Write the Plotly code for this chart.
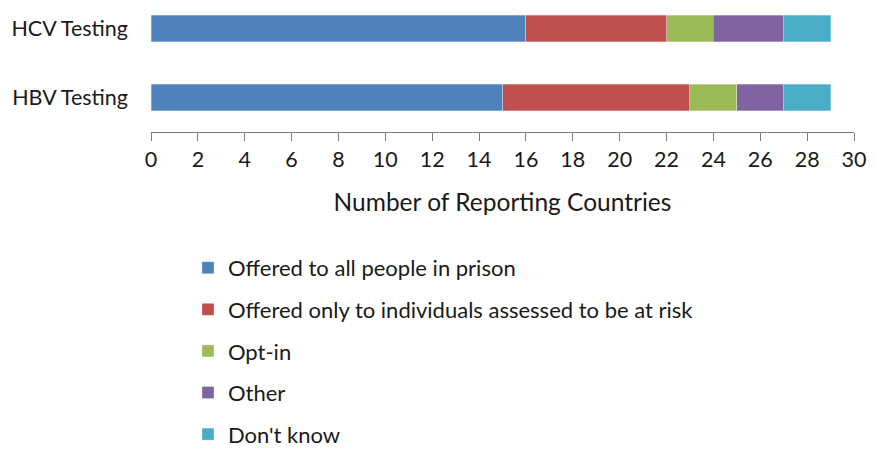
import plotly.graph_objects as go

categories = ['HBV Testing', 'HCV Testing']
series_names = [
    'Offered to all people in prison',
    'Offered only to individuals assessed to be at risk',
    'Opt-in',
    'Other',
    "Don't know",
]
# values per series, ordered as categories (HBV, HCV)
all_people = [15, 16]
at_risk = [8, 6]
opt_in = [2, 2]
other = [2, 3]
dont_know = [2, 2]

colors = ['#4F81BD', '#C0504D', '#9BBB59', '#8064A2', '#4BACC6']
font = 'Lato, Calibri, sans-serif'

fig = go.Figure()
for i, (name, vals) in enumerate(zip(series_names, [all_people, at_risk, opt_in, other, dont_know])):
    fig.add_trace(go.Bar(
        y=categories, x=vals, name=name, orientation='h',
        marker=dict(color=colors[i], line=dict(color='rgba(255,255,255,0.6)', width=0.5)),
        width=0.39, legendgroup=f'g{i}',
    ))

# page body adds an 8px offset, so the figure is sized to the visible area
fig.update_layout(
    width=868, height=451,
    barmode='stack',
    plot_bgcolor='white', paper_bgcolor='white',
    margin=dict(l=143, r=22, t=0, b=327, autoexpand=False),
    font=dict(family=font, size=21, color='#1a1a1a'),
    showlegend=True,
    legend=dict(
        orientation='v', x=0.0526, xanchor='left', y=-0.927, yanchor='top',
        tracegroupgap=10, traceorder='grouped', maxheight=440,
        font=dict(size=22), itemwidth=30,
    ),
    xaxis=dict(
        range=[0, 30], dtick=2, showgrid=False, zeroline=False,
        showline=True, linecolor='#7f7f7f', linewidth=1.3,
        ticks='outside', ticklen=8, tickcolor='#7f7f7f', tickwidth=1.3,
        title=dict(text='Number of Reporting Countries', standoff=22, font=dict(size=24.5)),
        tickfont=dict(size=21.5),
    ),
    yaxis=dict(
        range=[-0.5, 1.297], showgrid=False, zeroline=False, showline=False,
        ticks='', ticklabelstandoff=22, tickfont=dict(size=21.5),
    ),
)

fig.write_html('out.html')
